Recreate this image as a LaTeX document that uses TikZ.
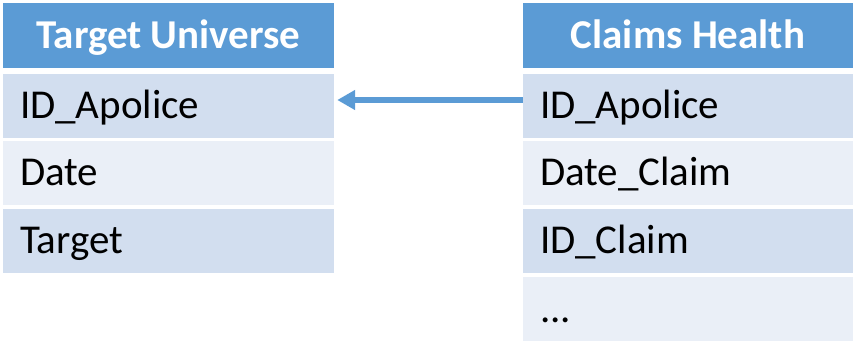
\documentclass[tikz,border=0pt]{standalone}
\usepackage{fontspec}
\setmainfont{Carlito}
\usetikzlibrary{arrows.meta}
\definecolor{hdrblue}{HTML}{5B9BD5}
\definecolor{banddark}{HTML}{D2DEEF}
\definecolor{bandlight}{HTML}{EAEFF7}
\tikzset{
  cellbase/.style={rectangle, inner ysep=0pt, minimum height=64pt,
    text height=26.4pt, text depth=0pt, font=\fontsize{41}{45}\selectfont},
  hdr/.style={cellbase, fill=hdrblue, text=white, minimum height=65pt,
    minimum width=#1, inner xsep=0pt, font=\fontsize{41}{45}\selectfont\bfseries},
  row/.style={cellbase, text=black, inner xsep=17pt, text width=#1-34pt, align=left},
  dark/.style={fill=banddark},
  light/.style={fill=bandlight},
  link/.style={draw=hdrblue, line width=5.5pt, -{Triangle[length=18pt,width=19pt]}}
}
\begin{document}
\begin{tikzpicture}[x=1pt,y=-1pt]
\useasboundingbox (0,0) rectangle (855,343);
% Target Universe table
\node[hdr=331pt] (tu) at (168.5,35.5) {Target Universe};
\node[row=331pt, dark]  (tu1) at (168.5,105.5) {ID\_Apolice};
\node[row=331pt, light] (tu2) at (168.5,172.5) {Date};
\node[row=331pt, dark]  (tu3) at (168.5,240.5) {Target};
% Claims Health table
\node[hdr=330pt] (ch) at (688,35.5) {Claims Health};
\node[row=330pt, dark]  (ch1) at (688,105.5) {ID\_Apolice};
\node[row=330pt, light] (ch2) at (688,172.5) {Date\_Claim};
\node[row=330pt, dark]  (ch3) at (688,240.5) {ID\_Claim};
\node[row=330pt, light] (ch4) at (688,309) {...};
% key link
\draw[link] ([yshift=5.5pt]ch1.west) -- ([yshift=5.5pt,xshift=3pt]tu1.east);
\end{tikzpicture}
\end{document}
